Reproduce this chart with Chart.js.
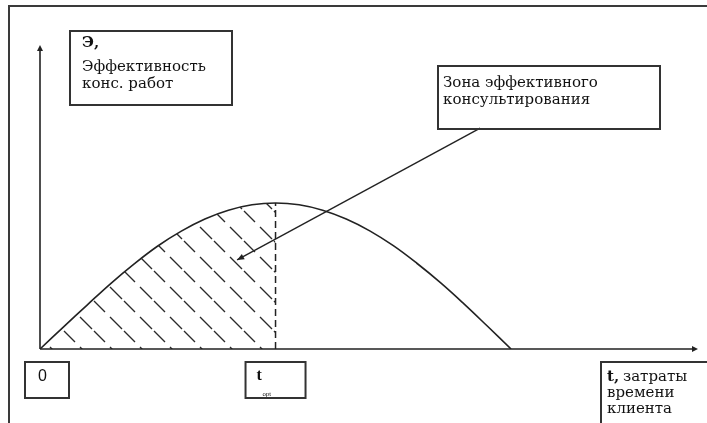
<!DOCTYPE html>
<html>
<head>
<meta charset="utf-8">
<script src="https://cdn.jsdelivr.net/npm/chart.js@4.4.1/dist/chart.umd.min.js"></script>
<style>
  html, body { margin: 0; padding: 0; background: #fff; }
  #wrap { width: 707px; height: 423px; }
</style>
</head>
<body>
<div id="wrap"><canvas id="chart" width="707" height="423"></canvas></div>
<script>
// time spent by client (arbitrary units, 0..100 along the axis)
const tValues = [0, 3.59, 7.17, 10.76, 14.34, 17.93, 21.51, 25.10, 28.68, 32.27, 35.85,
                 39.44, 43.02, 46.61, 50.19, 53.78, 57.36, 60.95, 64.53, 68.12, 71.7];
// consulting efficiency (arbitrary units, 0..100 up the axis)
const effValues = [0, 7.3, 14.5, 21.6, 28.1, 34.0, 38.9, 42.9, 45.8, 47.6, 48.2,
                   47.6, 45.8, 42.9, 39.0, 34.1, 28.3, 21.9, 14.9, 7.5, 0];
const tOpt = 35.85;
const arrowFrom = [67.0, 72.9];
const arrowTo = [30.0, 29.4];

const yLabelLines = ['Э,', 'Эффективность', 'конс. работ'];
const zoneLabelLines = ['Зона эффективного', 'консультирования'];
const xLabelLines = ['t,', 'затраты', 'времени', 'клиента'];

const ink = '#222';
const serif = '"DejaVu Serif", "Liberation Serif", serif';

// build point lists from arrays
const curvePoints = tValues.map((t, i) => ({ x: t, y: effValues[i] }));
const zonePoints = curvePoints.filter(p => p.x <= tOpt);
const peakEff = effValues[tValues.indexOf(tOpt)];

// diagonal dashed hatching
function makeHatch() {
    const c = document.createElement('canvas');
    c.width = 30;
    c.height = 30;
    const g = c.getContext('2d');
    g.strokeStyle = '#2a2a2a';
    g.lineWidth = 1.4;
    g.beginPath();
    g.moveTo(1, 1); g.lineTo(12, 12);
    g.moveTo(17, 17); g.lineTo(29, 29);
    g.stroke();
    const p = g.createPattern(c, 'repeat');
    if (p.setTransform) p.setTransform(new DOMMatrix().translate(3, 0));
    return p;
}

function arrowHead(ctx, x, y, angle, len, half) {
    ctx.save();
    ctx.translate(x, y);
    ctx.rotate(angle);
    ctx.beginPath();
    ctx.moveTo(0, 0);
    ctx.lineTo(-len, -half);
    ctx.lineTo(-len, half);
    ctx.closePath();
    ctx.fillStyle = ink;
    ctx.fill();
    ctx.restore();
}

function box(ctx, x, y, w, h) {
    ctx.save();
    ctx.strokeStyle = '#333';
    ctx.lineWidth = 2;
    ctx.strokeRect(x, y, w, h);
    ctx.restore();
}

const decorPlugin = {
    id: 'decor',
    beforeDraw(chart) {
        const ctx = chart.ctx;
        ctx.save();
        ctx.fillStyle = '#fff';
        ctx.fillRect(0, 0, chart.width, chart.height);
        // outer frame
        ctx.strokeStyle = '#3a3a3a';
        ctx.lineWidth = 2;
        ctx.beginPath();
        ctx.moveTo(chart.width + 2, 6);
        ctx.lineTo(9, 6);
        ctx.lineTo(9, chart.height + 2);
        ctx.stroke();
        ctx.restore();
    },
    afterDatasetsDraw(chart) {
        const ctx = chart.ctx;
        const xs = chart.scales.x, ys = chart.scales.y;
        const area = chart.chartArea;
        const ox = xs.getPixelForValue(0), oy = ys.getPixelForValue(0);

        ctx.save();
        // axes
        ctx.strokeStyle = ink;
        ctx.lineWidth = 1.6;
        ctx.beginPath();
        ctx.moveTo(ox, oy);
        ctx.lineTo(ox, area.top + 2);
        ctx.moveTo(ox, oy);
        ctx.lineTo(area.right - 2, oy);
        ctx.stroke();
        arrowHead(ctx, ox, area.top - 1, -Math.PI / 2, 6, 3);
        arrowHead(ctx, area.right + 1, oy, 0, 6, 3);

        // arrow head on the pointer line
        const ax1 = xs.getPixelForValue(arrowFrom[0]), ay1 = ys.getPixelForValue(arrowFrom[1]);
        const ax2 = xs.getPixelForValue(arrowTo[0]), ay2 = ys.getPixelForValue(arrowTo[1]);
        arrowHead(ctx, ax2, ay2, Math.atan2(ay2 - ay1, ax2 - ax1), 7, 3);

        // label boxes
        ctx.fillStyle = '#111';
        ctx.textBaseline = 'middle';
        ctx.textAlign = 'left';

        box(ctx, 70, 31, 162, 74);
        ctx.font = 'bold 15px ' + serif;
        ctx.fillText(yLabelLines[0], 82, 43);
        ctx.font = '15px ' + serif;
        ctx.fillText(yLabelLines[1], 82, 67, 130);
        ctx.fillText(yLabelLines[2], 82, 84);

        box(ctx, 438, 66, 222, 63);
        ctx.font = '15px ' + serif;
        ctx.fillText(zoneLabelLines[0], 443, 83, 164);
        ctx.fillText(zoneLabelLines[1], 443, 100, 162);

        box(ctx, 601, 362, 120, 80);
        ctx.font = 'bold 15px ' + serif;
        ctx.fillText(xLabelLines[0], 607, 377);
        ctx.font = '15px ' + serif;
        ctx.fillText(xLabelLines[1], 623, 377);
        ctx.fillText(xLabelLines[2], 607, 393);
        ctx.fillText(xLabelLines[3], 607, 409);

        box(ctx, 25, 362, 44, 36);
        ctx.font = '16px "Liberation Sans", Arial, sans-serif';
        ctx.fillText('0', 38, 377);

        const tx = xs.getPixelForValue(tOpt);
        box(ctx, tx - 30, 362, 60, 36);
        ctx.font = 'bold 16px "Liberation Serif", serif';
        ctx.fillText('t', tx - 19, 376);
        ctx.font = '6px "Liberation Sans", sans-serif';
        ctx.fillText('opt', tx - 13, 394);
        ctx.restore();
    }
};

new Chart(document.getElementById('chart'), {
    type: 'scatter',
    data: {
        datasets: [
            {
                label: 'zone',
                data: zonePoints,
                showLine: true,
                tension: 0.4,
                borderWidth: 0,
                borderColor: 'rgba(0,0,0,0)',
                backgroundColor: makeHatch(),
                fill: 'origin',
                pointRadius: 0
            },
            {
                label: 'efficiency',
                data: curvePoints,
                showLine: true,
                tension: 0.4,
                borderColor: ink,
                borderWidth: 1.6,
                fill: false,
                pointRadius: 0
            },
            {
                label: 'topt',
                data: [{ x: tOpt, y: 0 }, { x: tOpt, y: peakEff }],
                showLine: true,
                borderColor: ink,
                borderWidth: 1.5,
                borderDash: [7, 4],
                pointRadius: 0
            },
            {
                label: 'pointer',
                data: [{ x: arrowFrom[0], y: arrowFrom[1] }, { x: arrowTo[0], y: arrowTo[1] }],
                showLine: true,
                borderColor: ink,
                borderWidth: 1.4,
                pointRadius: 0
            }
        ]
    },
    options: {
        responsive: false,
        animation: false,
        layout: { padding: { left: 40, right: 10, top: 46, bottom: 74 } },
        plugins: { legend: { display: false }, tooltip: { enabled: false } },
        scales: {
            x: { type: 'linear', min: 0, max: 100, display: false },
            y: { type: 'linear', min: 0, max: 100, display: false }
        }
    },
    plugins: [decorPlugin]
});
</script>
</body>
</html>
